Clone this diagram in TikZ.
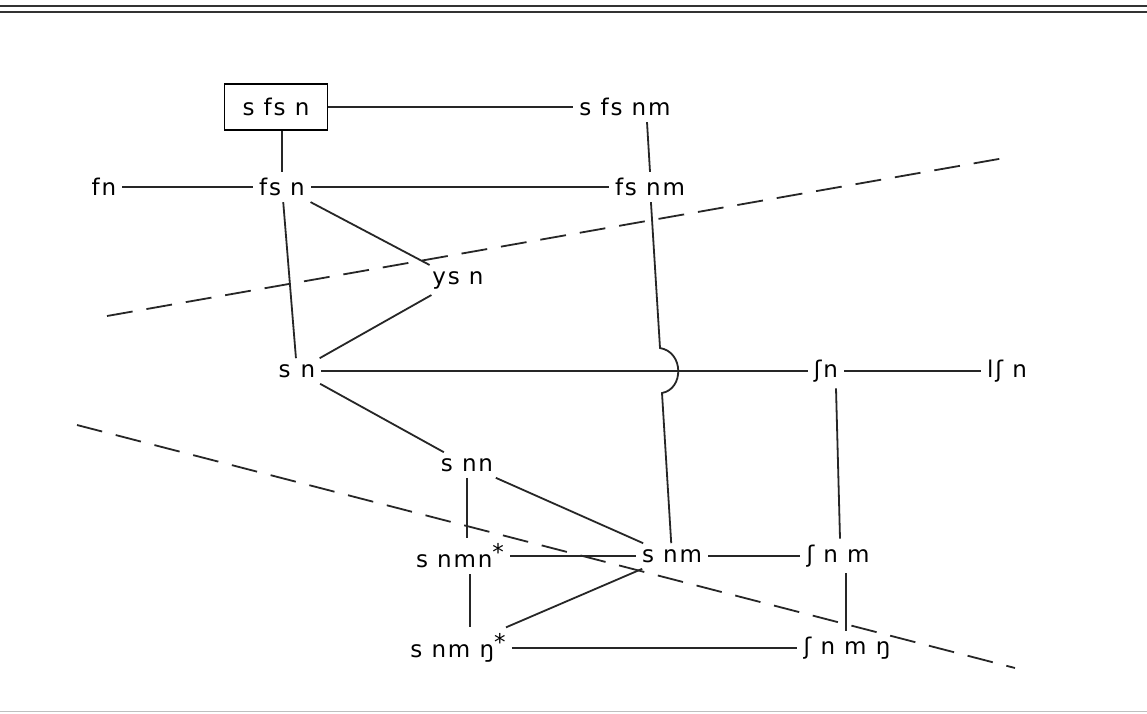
\documentclass[tikz,border=0pt]{standalone}
\usepackage{fontspec}
\setmainfont[LetterSpace=8]{DejaVu Sans}
\begin{document}
\begin{tikzpicture}[x=1pt,y=-1pt,
  lbl/.style={inner sep=6pt, font=\fontsize{23}{27}\selectfont},
  ln/.style={line width=1.8pt, black!85},
  dsh/.style={line width=1.8pt, black!85, dash pattern=on 26pt off 14pt}]
\useasboundingbox (0,0) rectangle (1147,713);
\fill[white] (0,0) rectangle (1147,713);
\draw[line width=2pt, black!80] (0,6) -- (1147,6);
\draw[line width=2pt, black!80] (0,12) -- (1147,12);
\draw[line width=1pt, black!25] (0,711) -- (1147,711);

\node[lbl, draw, line width=1.8pt, minimum width=103pt, minimum height=46pt] (sfsn) at (276,107) {s fs n};
\node[lbl] (sfsnm) at (625,107) {s fs nm};
\node[lbl] (fn) at (104,187) {fn};
\node[lbl] (fsn) at (282,187) {fs n};
\node[lbl] (fsnm) at (650,187) {fs nm};
\node[lbl] (ysn) at (458,280) {ys n};
\node[lbl] (sn) at (297,371) {s\hspace{10pt}n};
\node[lbl] (shn) at (826,371) {ʃn};
\node[lbl] (lshn) at (1007,371) {lʃ n};
\node[lbl] (snn) at (467,465) {s nn};
\node[lbl] (snmn) at (460,556) {s nmn\raisebox{7pt}{*}};
\node[lbl] (snm) at (672,556) {s nm};
\node[lbl] (shnm) at (838,556) {ʃ n m};
\node[lbl] (snmng) at (458,648) {s nm ŋ\raisebox{7pt}{*}};
\node[lbl] (shnmng) at (847,648) {ʃ n m ŋ};

\coordinate (jA) at (660,348);
\coordinate (jB) at (662,393);

\draw[dsh] (107,316) -- (1010,157);
\draw[dsh] (77,425) -- (1015,668);

\draw[ln] (sfsn) -- (sfsnm);
\draw[ln] (sfsn.south -| fsn.north) -- (fsn.north);
\draw[ln] (sfsnm.south -| 647,0) -- (fsnm.north -| 650,0);
\draw[ln] (fn) -- (fsn);
\draw[ln] (fsn) -- (fsnm);
\draw[ln] (fsn) -- (ysn);
\draw[ln] (fsn) -- (sn);
\draw[ln] (ysn) -- (sn);
\draw[ln] (fsnm) -- (jA) .. controls (684,352) and (684,389) .. (jB) -- (snm);
\draw[ln] (sn) -- (shn);
\draw[ln] (shn) -- (lshn);
\draw[ln] (shn.south -| 836,0) -- (shnm.north -| 840,0);
\draw[ln] (sn) -- (snn);
\draw[ln] (snn.south) -- (snn.south |- snmn.north);
\draw[ln] (snn) -- (snm);
\draw[ln] (snmn) -- (snm);
\draw[ln] (snm) -- (shnm);
\draw[ln] (snm) -- (snmng);
\draw[ln] (snmn.south -| 470,0) -- (snmng.north -| 470,0);
\draw[ln] (snmng) -- (shnmng);
\draw[ln] (shnm.south -| 846,0) -- (shnmng.north -| 846,0);
\end{tikzpicture}
\end{document}
